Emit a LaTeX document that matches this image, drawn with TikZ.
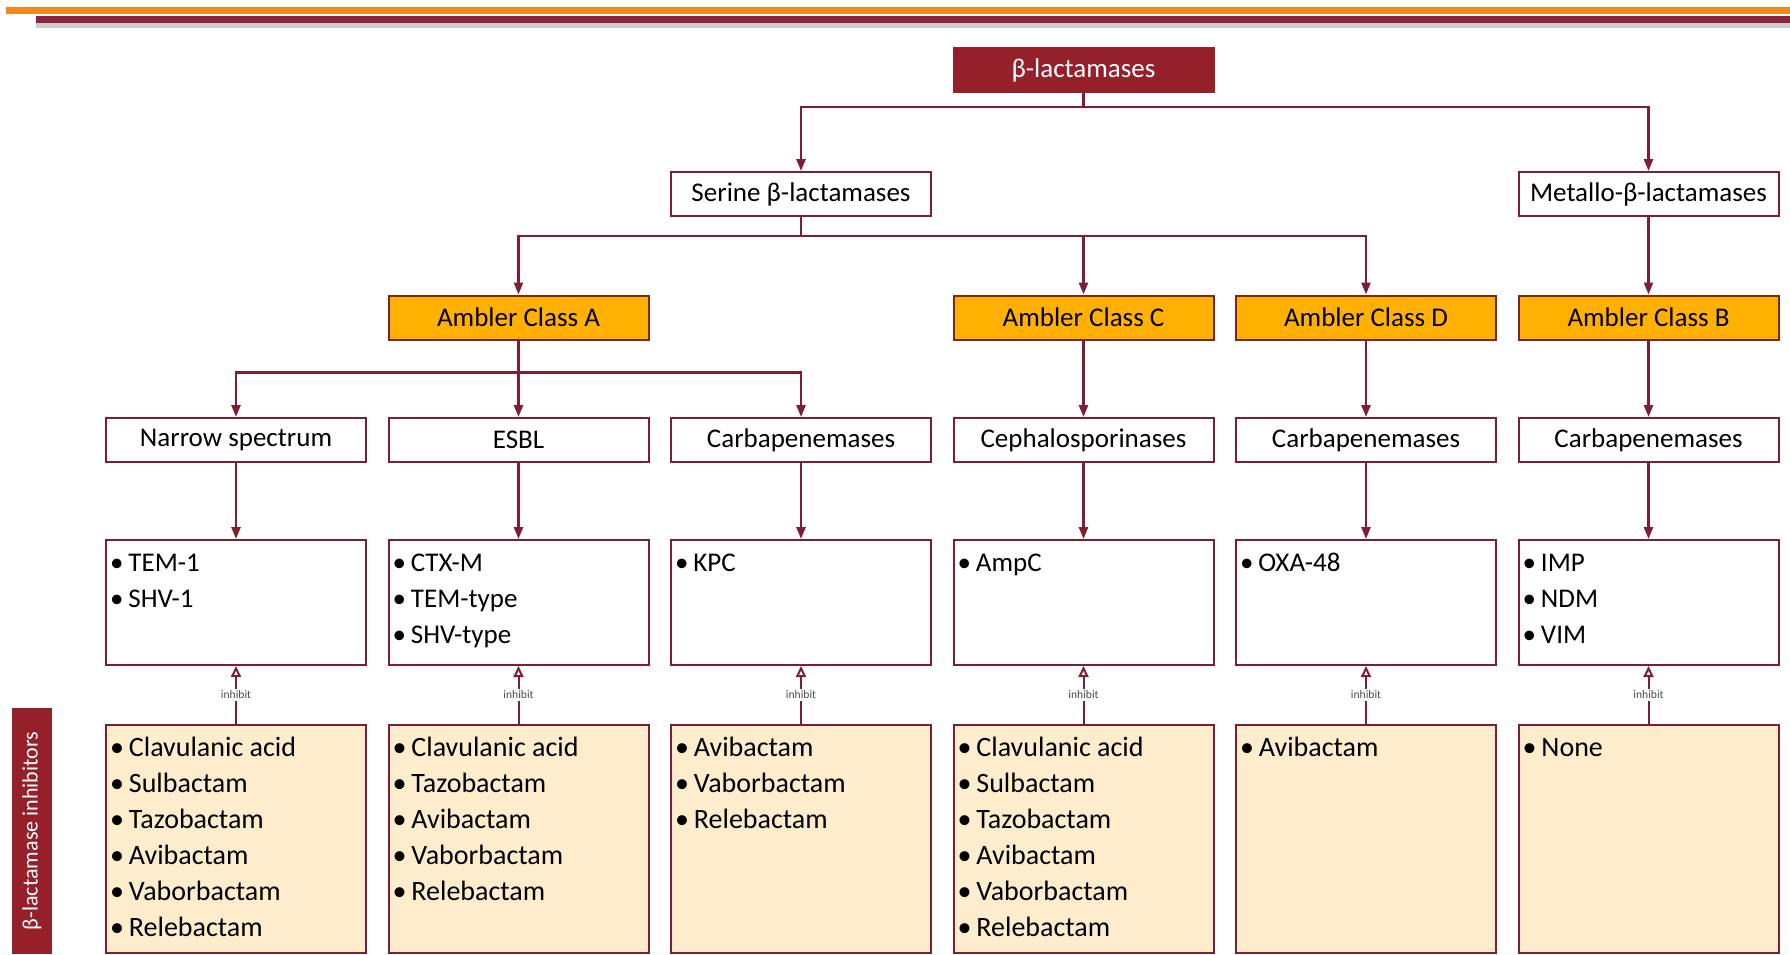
\documentclass[tikz,border=0pt]{standalone}
\usepackage{fontspec}
\setmainfont{Carlito}
\usetikzlibrary{arrows.meta}

\definecolor{maroon}{RGB}{125,30,50}
\definecolor{darkred}{RGB}{150,32,42}
\definecolor{classline}{RGB}{120,40,30}
\definecolor{amber}{RGB}{255,176,0}
\definecolor{beige}{RGB}{253,237,204}
\definecolor{stripeorange}{RGB}{245,135,30}
\definecolor{stripemaroon}{RGB}{140,35,60}

% list of bullet items, top aligned in a box of given height
\newcommand{\druglist}[2]{\parbox[c][#1][t]{126pt}{\raggedright\baselineskip=18pt\rule{0pt}{15.5pt}#2}}
\newcommand{\itm}{\textbullet\hspace{2.5pt}}

\begin{document}
\begin{tikzpicture}[x=0.5pt, y=-0.5pt, node distance=141.25pt, thick,
	font=\fontsize{13.5}{16}\selectfont,
	plain box/.style={rectangle,draw=maroon,line width=1pt,fill=white,minimum width=130pt,minimum height=22pt,inner sep=0pt},
	class box/.style={plain box,draw=classline,fill=amber},
	top box/.style={plain box,draw=darkred,fill=darkred,text=white},
	enzyme box/.style={plain box,minimum height=62.5pt,inner xsep=2pt},
	drug box/.style={plain box,fill=beige,minimum height=114pt,inner xsep=2pt,font=\fontsize{14}{18}\selectfont},
	side label/.style={rectangle,fill=darkred,text=white,rotate=90,minimum width=123pt,minimum height=20pt,inner sep=0pt,font=\fontsize{11}{13}\selectfont},
	main arrow/.style={draw=maroon,line width=1.25pt,-{Triangle[length=6pt,width=4.5pt]}},
	inhibit arrow/.style={draw=maroon,line width=1pt,-{Triangle[open,length=5.5pt,width=5pt]}},
	inhibit label/.style={fill=white,inner sep=1pt,text=black!70,font=\fontsize{5.8}{6}\selectfont}]
	
	\useasboundingbox (0,0) rectangle (1790,954);
	\fill[white] (0,0) rectangle (1790,954);
	
	% header stripes
	\fill[black!20] (36,23) rectangle (1790,28);
	\draw[stripeorange,line width=3.5pt] (6,10.5) -- (1790,10.5);
	\draw[stripemaroon,line width=3.5pt] (36,19.5) -- (1790,19.5);
	
	% spectrum row
	\node[plain box] (narrow) at (236,440) {Narrow spectrum};
	\node[plain box] (esbl) [right of=narrow] {ESBL};
	\node[plain box] (carbA) [right of=esbl] {Carbapenemases};
	\node[plain box] (cepha) [right of=carbA] {Cephalosporinases};
	\node[plain box] (carbD) [right of=cepha] {Carbapenemases};
	\node[plain box] (carbB) [right of=carbD] {Carbapenemases};
	
	% Ambler classes
	\node[class box] (classA) [above of=esbl, node distance=61.25pt] {Ambler Class A};
	\node[class box] (classC) [above of=cepha, node distance=61.25pt] {Ambler Class C};
	\node[class box] (classD) [above of=carbD, node distance=61.25pt] {Ambler Class D};
	\node[class box] (classB) [above of=carbB, node distance=61.25pt] {Ambler Class B};
	
	\node[plain box] (serine) [above of=carbA, node distance=123pt] {Serine β-lactamases};
	\node[plain box] (metallo) [above of=classB, node distance=61.75pt] {Metallo-β-lactamases};
	\node[top box] (blact) [above of=classC, node distance=123.75pt] {β-lactamases};
	
	% enzymes
	\node[enzyme box] (tem) [below of=narrow, node distance=81.25pt] {\druglist{62.5pt}{\itm TEM-1\\ \itm SHV-1}};
	\node[enzyme box] (ctxm) [below of=esbl, node distance=81.25pt] {\druglist{62.5pt}{\itm CTX-M\\ \itm TEM-type\\ \itm SHV-type}};
	\node[enzyme box] (kpc) [below of=carbA, node distance=81.25pt] {\druglist{62.5pt}{\itm KPC}};
	\node[enzyme box] (ampc) [below of=cepha, node distance=81.25pt] {\druglist{62.5pt}{\itm AmpC}};
	\node[enzyme box] (oxa) [below of=carbD, node distance=81.25pt] {\druglist{62.5pt}{\itm OXA-48}};
	\node[enzyme box] (imp) [below of=carbB, node distance=81.25pt] {\druglist{62.5pt}{\itm IMP\\ \itm NDM\\ \itm VIM}};
	
	% inhibitors
	\node[drug box] (inhNarrow) [below of=tem, node distance=118.25pt] {\druglist{114pt}{\itm Clavulanic acid\\ \itm Sulbactam\\ \itm Tazobactam\\ \itm Avibactam\\ \itm Vaborbactam\\ \itm Relebactam}};
	\node[drug box] (inhEsbl) [below of=ctxm, node distance=118.25pt] {\druglist{114pt}{\itm Clavulanic acid\\ \itm Tazobactam\\ \itm Avibactam\\ \itm Vaborbactam\\ \itm Relebactam}};
	\node[drug box] (inhKpc) [below of=kpc, node distance=118.25pt] {\druglist{114pt}{\itm Avibactam\\ \itm Vaborbactam\\ \itm Relebactam}};
	\node[drug box] (inhAmpc) [below of=ampc, node distance=118.25pt] {\druglist{114pt}{\itm Clavulanic acid\\ \itm Sulbactam\\ \itm Tazobactam\\ \itm Avibactam\\ \itm Vaborbactam\\ \itm Relebactam}};
	\node[drug box] (inhOxa) [below of=oxa, node distance=118.25pt] {\druglist{114pt}{\itm Avibactam}};
	\node[drug box] (inhImp) [below of=imp, node distance=118.25pt] {\druglist{114pt}{\itm None}};
	
	\node[side label] (inhTitle) at (32,831) {β-lactamase inhibitors};
	
	% tree connectors
	\draw[main arrow] (blact.south) -- ++(0,14) -| (serine.north);
	\draw[main arrow] (blact.south) -- ++(0,14) -| (metallo.north);
	\draw[main arrow] (serine.south) -- ++(0,19) -| (classA.north);
	\draw[main arrow] (serine.south) -- ++(0,19) -| (classC.north);
	\draw[main arrow] (serine.south) -- ++(0,19) -| (classD.north);
	\draw[main arrow] (classA.south) -- ++(0,32) -| (narrow.north);
	\draw[main arrow] (classA.south) -- ++(0,32) -| (esbl.north);
	\draw[main arrow] (classA.south) -- ++(0,32) -| (carbA.north);
	
	\path
	(metallo) edge[main arrow] (classB)
	(classC) edge[main arrow] (cepha)
	(classD) edge[main arrow] (carbD)
	(classB) edge[main arrow] (carbB)
	(narrow) edge[main arrow] (tem)
	(esbl) edge[main arrow] (ctxm)
	(carbA) edge[main arrow] (kpc)
	(cepha) edge[main arrow] (ampc)
	(carbD) edge[main arrow] (oxa)
	(carbB) edge[main arrow] (imp);
	
	\path[every node/.style={inhibit label}]
	(inhNarrow) edge[inhibit arrow] node {inhibit} (tem)
	(inhEsbl) edge[inhibit arrow] node {inhibit} (ctxm)
	(inhKpc) edge[inhibit arrow] node {inhibit} (kpc)
	(inhAmpc) edge[inhibit arrow] node {inhibit} (ampc)
	(inhOxa) edge[inhibit arrow] node {inhibit} (oxa)
	(inhImp) edge[inhibit arrow] node {inhibit} (imp);
\end{tikzpicture}
\end{document}
